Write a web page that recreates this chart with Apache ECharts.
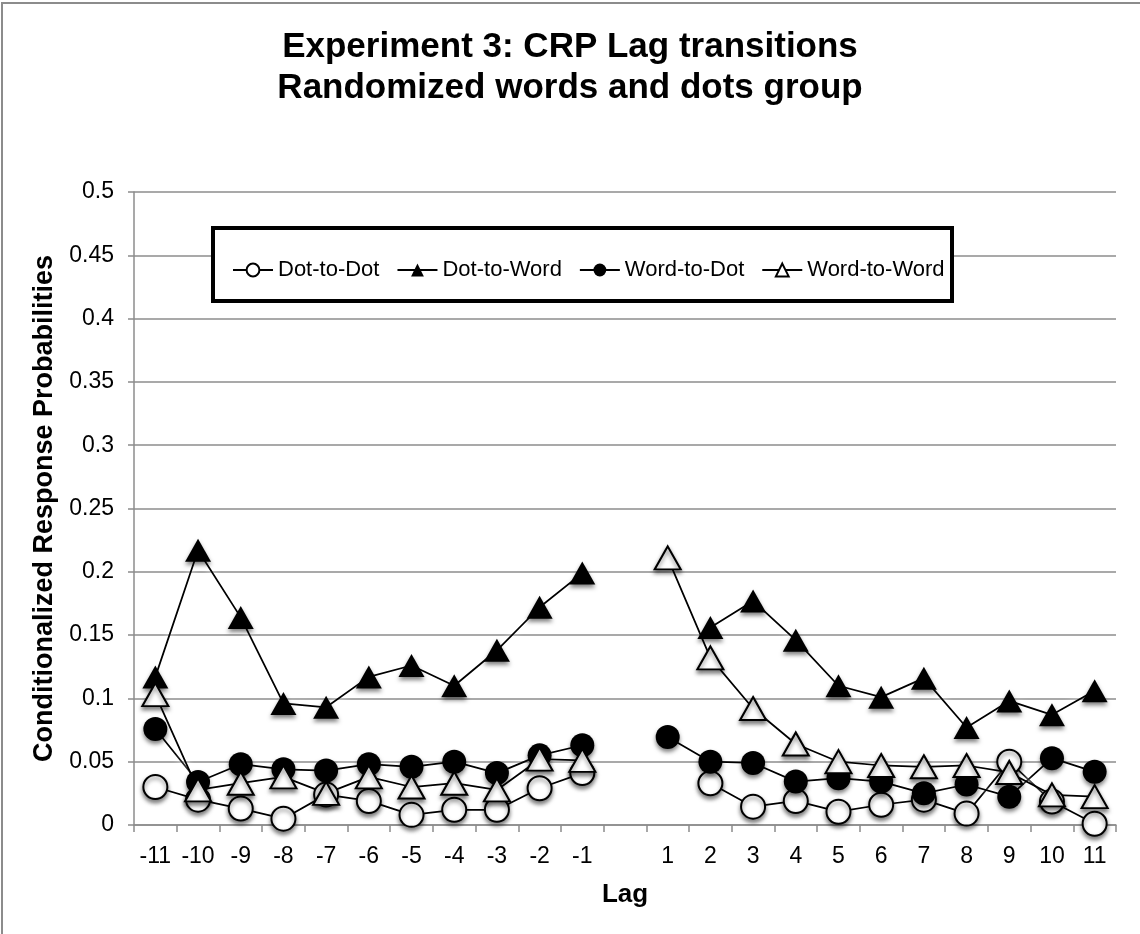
<!DOCTYPE html>
<html>
<head>
<meta charset="utf-8">
<script src="https://cdn.jsdelivr.net/npm/echarts@6/dist/echarts.min.js"></script>
<style>
html,body{margin:0;padding:0;background:#fff;}
#chart{width:1140px;height:934px;}
</style>
</head>
<body>
<div id="chart"></div>
<script>
const lags = ['-11','-10','-9','-8','-7','-6','-5','-4','-3','-2','-1','','1','2','3','4','5','6','7','8','9','10','11'];
const dotToDot   = [0.030,0.020,0.013,0.005,0.024,0.019,0.008,0.012,0.012,0.029,0.041,null,null,0.033,0.0145,0.019,0.0105,0.016,0.020,0.009,0.050,0.0185,0.001];
const dotToWord  = [0.117,0.217,0.164,0.096,0.093,0.117,0.126,0.110,0.138,0.172,0.199,null,null,0.156,0.177,0.146,0.110,0.101,0.116,0.077,0.098,0.087,0.106];
const wordToDot  = [0.0758,0.034,0.048,0.044,0.043,0.048,0.046,0.050,0.041,0.055,0.063,null,0.0695,0.050,0.049,0.0343,0.037,0.0343,0.025,0.032,0.0224,0.0528,0.042];
const wordToWord = [0.103,0.0277,0.033,0.038,0.025,0.038,0.030,0.033,0.0277,0.052,0.051,null,0.211,0.132,0.092,0.064,0.050,0.047,0.046,0.047,0.0415,0.0238,0.0224];
const seriesNames = ['Dot-to-Dot','Dot-to-Word','Word-to-Dot','Word-to-Word'];
const yTicks = {min:0, max:0.5, interval:0.05};

const FONT = 'Liberation Sans, Arial, Helvetica, sans-serif';
const GRAY = '#8c8c8c';
const shadow = {shadowColor:'rgba(0,0,0,0.5)', shadowBlur:4, shadowOffsetY:3};
const lineStyle = {color:'#000', width:1.75, shadowColor:'#fff', shadowBlur:6};

function mk(name, data, symbol, size, fill){
  return {
    name, type:'line', data, symbol, symbolSize:size, connectNulls:false,
    lineStyle: lineStyle,
    itemStyle: Object.assign({color:fill, borderColor:'#000', borderWidth: fill==='#fff'?2:0}, shadow),
    emphasis:{disabled:true}, animation:false
  };
}

const chart = echarts.init(document.getElementById('chart'));
chart.setOption({
  backgroundColor:'#fff',
  animation:false,
  textStyle:{fontFamily:FONT, color:'#000'},
  title:{
    text:'Experiment 3: CRP Lag transitions\nRandomized words and dots group',
    left:'center', top:22,
    textStyle:{fontFamily:FONT, fontSize:35, fontWeight:'bold', color:'#000', lineHeight:41}
  },
  grid:{left:134, right:24, top:192, bottom:109, containLabel:false},
  legend:{
    data:seriesNames, left:227, top:254, itemWidth:40, itemHeight:16, itemGap:17,
    textStyle:{fontFamily:FONT, fontSize:22, color:'#000'}, z:10, selectedMode:false
  },
  graphic:[
    {type:'polyline', shape:{points:[[2,934],[2,3],[1140,3]]}, style:{stroke:GRAY, lineWidth:2, fill:null}, z:0, silent:true},
    {type:'rect', shape:{x:213, y:228, width:739, height:73}, style:{fill:'#fff', stroke:'#000', lineWidth:4}, z:5, silent:true}
  ],
  xAxis:{
    type:'category', data:lags, boundaryGap:true,
    name:'Lag', nameLocation:'middle', nameGap:57,
    nameTextStyle:{fontFamily:FONT, fontSize:26, fontWeight:'bold', color:'#000'},
    axisLine:{lineStyle:{color:GRAY, width:1.5}},
    axisTick:{show:true, interval:0, length:7, lineStyle:{color:GRAY, width:1.5}},
    axisLabel:{interval:0, margin:20, fontFamily:FONT, fontSize:23, color:'#000'},
    splitLine:{show:false}
  },
  yAxis:{
    type:'value', min:yTicks.min, max:yTicks.max, interval:yTicks.interval,
    name:'Conditionalized Response Probabilities', nameLocation:'middle', nameGap:74,
    nameTextStyle:{fontFamily:FONT, fontSize:27, fontWeight:'bold', color:'#000'},
    axisLine:{show:true, lineStyle:{color:GRAY, width:1.5}},
    axisTick:{show:true, length:6, lineStyle:{color:GRAY, width:1.5}},
    axisLabel:{margin:20, fontFamily:FONT, fontSize:23, color:'#000'},
    splitLine:{show:true, lineStyle:{color:GRAY, width:1.5}}
  },
  series:[
    mk(seriesNames[0], dotToDot, 'circle', 24, '#fff'),
    mk(seriesNames[1], dotToWord, 'triangle', [26,23], '#000'),
    mk(seriesNames[2], wordToDot, 'circle', 24, '#000'),
    mk(seriesNames[3], wordToWord, 'triangle', [26,23], '#fff')
  ]
});
</script>
</body>
</html>
